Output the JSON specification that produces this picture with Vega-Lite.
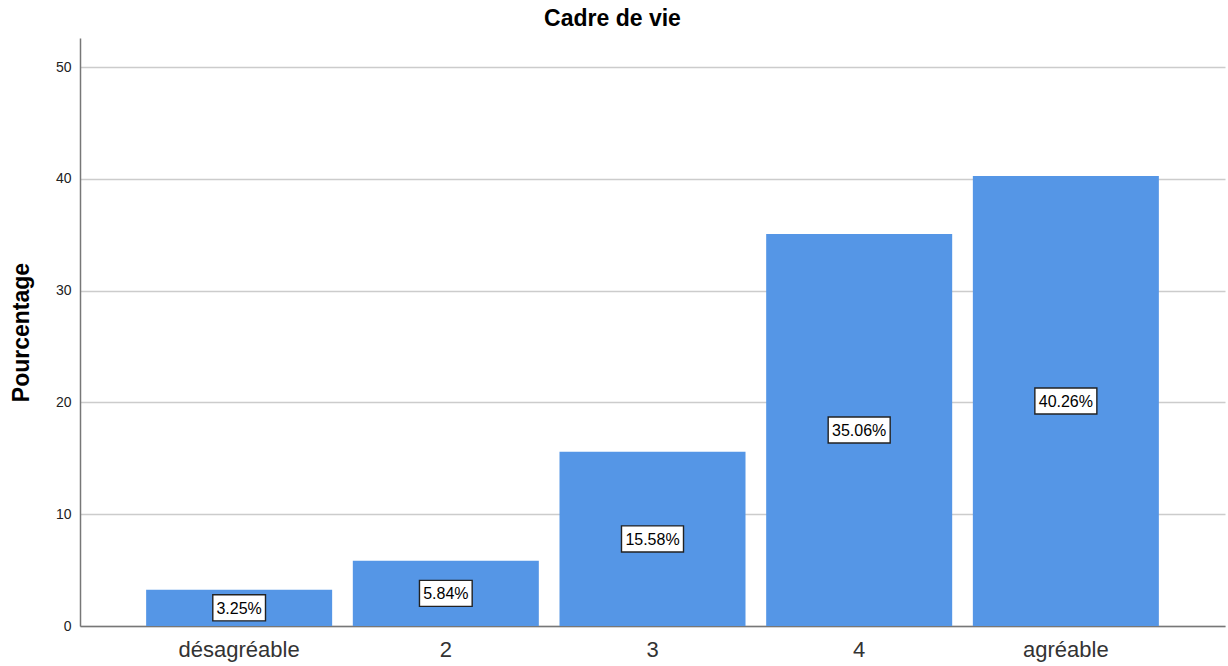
{
  "$schema": "https://vega.github.io/schema/vega-lite/v6.json",
  "width": 1145,
  "height": 588,
  "autosize": "none",
  "padding": {"left": 80, "top": 38, "right": 3, "bottom": 40},
  "background": "white",
  "title": {"text": "Cadre de vie", "font": "Liberation Sans", "fontSize": 23, "fontWeight": "bold", "color": "#000000", "anchor": "middle", "offset": 7, "dx": -40},
  "config": {"view": {"stroke": null}, "font": "Liberation Sans"},
  "data": {"values": [
    {"cat": "désagréable", "value": 3.25},
    {"cat": "2", "value": 5.84},
    {"cat": "3", "value": 15.58},
    {"cat": "4", "value": 35.06},
    {"cat": "agréable", "value": 40.26}
  ]},
  "transform": [
    {"calculate": "format(datum.value, '.2f') + '%'", "as": "label"},
    {"calculate": "datum.value / 2", "as": "mid"}
  ],
  "encoding": {
    "x": {"field": "cat", "type": "nominal", "sort": null,
      "scale": {"paddingInner": 0.1, "paddingOuter": 0.32},
      "axis": {"title": null, "labelAngle": 0, "labelFontSize": 22, "labelColor": "#333333", "labelPadding": 13, "ticks": false, "domainColor": "#777777", "domainWidth": 1.5, "grid": false}}
  },
  "layer": [
    {
      "mark": {"type": "bar", "color": "#5596E6"},
      "encoding": {
        "y": {"field": "value", "type": "quantitative",
          "scale": {"domain": [0, 52.6], "nice": false},
          "axis": {"title": "Pourcentage", "titleFontSize": 23, "titleFontWeight": "bold", "titleColor": "#000000", "titlePadding": 22,
            "values": [0, 10, 20, 30, 40, 50], "labelFontSize": 14, "labelColor": "#222222", "labelPadding": 9, "ticks": false,
            "domainColor": "#777777", "domainWidth": 1.5, "gridColor": "#cccccc", "gridWidth": 1.5}}
      }
    },
    {
      "mark": {"type": "point", "filled": true, "fill": "white", "stroke": "#222222", "strokeWidth": 1.4, "opacity": 1, "size": 3844},
      "encoding": {
        "y": {"field": "mid", "type": "quantitative"},
        "shape": {"condition": {"test": "datum.value < 10", "value": "M-0.85,-0.42H0.85V0.42H-0.85Z"}, "value": "M-1,-0.42H1V0.42H-1Z"}
      }
    },
    {
      "mark": {"type": "text", "fontSize": 16, "color": "#000000", "baseline": "middle", "align": "center", "dy": 1},
      "encoding": {
        "y": {"field": "mid", "type": "quantitative"},
        "text": {"field": "label"}
      }
    }
  ]
}
